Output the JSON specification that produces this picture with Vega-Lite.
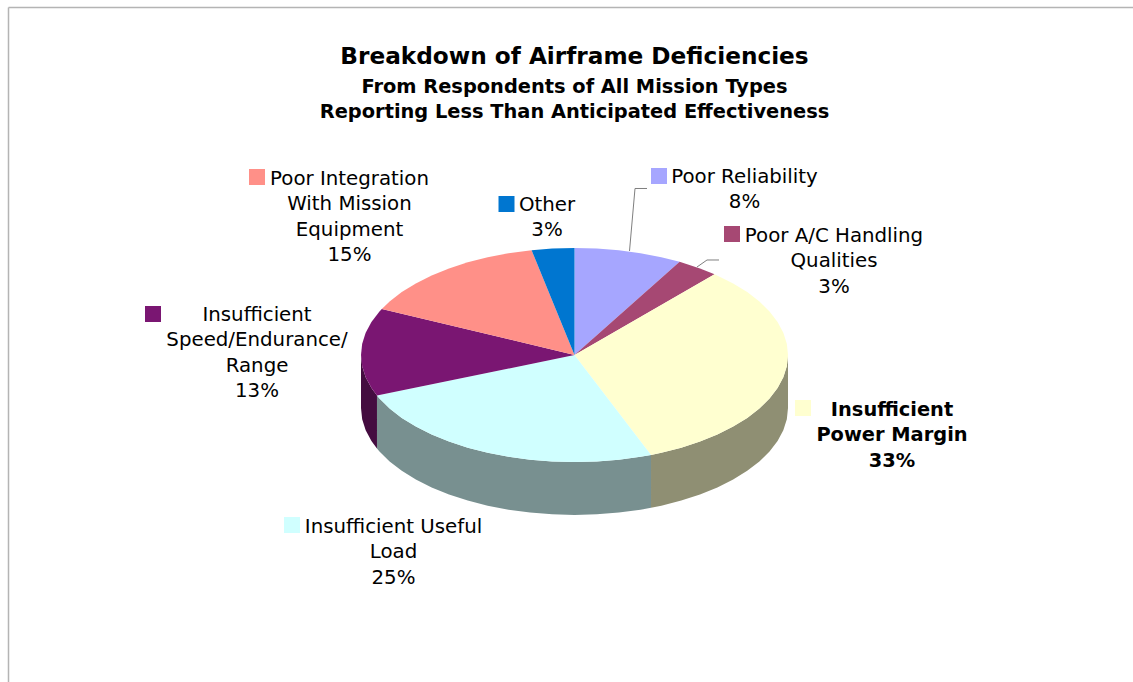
{
"$schema":"https://vega.github.io/schema/vega-lite/v6.json",
"width":1125,"height":675,
"autosize":"none",
"padding":{"left":8,"top":7,"right":0,"bottom":0},
"background":"white",
"title":{"text":"Breakdown of Airframe Deficiencies","subtitle":["From Respondents of All Mission Types","Reporting Less Than Anticipated Effectiveness"],
"font":"DejaVu Sans","fontSize":23.2,"fontWeight":"bold","color":"#000000",
"subtitleFont":"DejaVu Sans","subtitleFontSize":19.4,"subtitleFontWeight":"bold","subtitleColor":"#000000","subtitleLineHeight":25,"subtitlePadding":8,
"anchor":"middle","frame":"group","orient":"top","offset":-115,"dx":4},
"datasets":{
"faces":[
{"slice":"Poor Reliability","i":0,"x":0,"y":0},{"slice":"Poor Reliability","i":1,"x":0,"y":1},{"slice":"Poor Reliability","i":2,"x":0.1045,"y":0.9945},{"slice":"Poor Reliability","i":3,"x":0.2079,"y":0.9781},{"slice":"Poor Reliability","i":4,"x":0.309,"y":0.9511},{"slice":"Poor Reliability","i":5,"x":0.4067,"y":0.9135},{"slice":"Poor Reliability","i":6,"x":0.4924,"y":0.8704},
{"slice":"Poor A/C Handling Qualities","i":0,"x":0,"y":0},{"slice":"Poor A/C Handling Qualities","i":1,"x":0.4924,"y":0.8704},{"slice":"Poor A/C Handling Qualities","i":2,"x":0.5878,"y":0.809},{"slice":"Poor A/C Handling Qualities","i":3,"x":0.6561,"y":0.7547},
{"slice":"Insufficient Power Margin","i":0,"x":0,"y":0},{"slice":"Insufficient Power Margin","i":1,"x":0.6561,"y":0.7547},{"slice":"Insufficient Power Margin","i":2,"x":0.7431,"y":0.6691},{"slice":"Insufficient Power Margin","i":3,"x":0.809,"y":0.5878},{"slice":"Insufficient Power Margin","i":4,"x":0.866,"y":0.5},{"slice":"Insufficient Power Margin","i":5,"x":0.9135,"y":0.4067},{"slice":"Insufficient Power Margin","i":6,"x":0.9511,"y":0.309},{"slice":"Insufficient Power Margin","i":7,"x":0.9781,"y":0.2079},{"slice":"Insufficient Power Margin","i":8,"x":0.9945,"y":0.1045},{"slice":"Insufficient Power Margin","i":9,"x":1,"y":0},{"slice":"Insufficient Power Margin","i":10,"x":0.9945,"y":-0.1045},{"slice":"Insufficient Power Margin","i":11,"x":0.9781,"y":-0.2079},{"slice":"Insufficient Power Margin","i":12,"x":0.9511,"y":-0.309},{"slice":"Insufficient Power Margin","i":13,"x":0.9135,"y":-0.4067},{"slice":"Insufficient Power Margin","i":14,"x":0.866,"y":-0.5},{"slice":"Insufficient Power Margin","i":15,"x":0.809,"y":-0.5878},{"slice":"Insufficient Power Margin","i":16,"x":0.7431,"y":-0.6691},{"slice":"Insufficient Power Margin","i":17,"x":0.6691,"y":-0.7431},{"slice":"Insufficient Power Margin","i":18,"x":0.5878,"y":-0.809},{"slice":"Insufficient Power Margin","i":19,"x":0.5,"y":-0.866},{"slice":"Insufficient Power Margin","i":20,"x":0.4067,"y":-0.9135},{"slice":"Insufficient Power Margin","i":21,"x":0.3584,"y":-0.9336},
{"slice":"Insufficient Useful Load","i":0,"x":0,"y":0},{"slice":"Insufficient Useful Load","i":1,"x":0.3584,"y":-0.9336},{"slice":"Insufficient Useful Load","i":2,"x":0.309,"y":-0.9511},{"slice":"Insufficient Useful Load","i":3,"x":0.2079,"y":-0.9781},{"slice":"Insufficient Useful Load","i":4,"x":0.1045,"y":-0.9945},{"slice":"Insufficient Useful Load","i":5,"x":0,"y":-1},{"slice":"Insufficient Useful Load","i":6,"x":-0.1045,"y":-0.9945},{"slice":"Insufficient Useful Load","i":7,"x":-0.2079,"y":-0.9781},{"slice":"Insufficient Useful Load","i":8,"x":-0.309,"y":-0.9511},{"slice":"Insufficient Useful Load","i":9,"x":-0.4067,"y":-0.9135},{"slice":"Insufficient Useful Load","i":10,"x":-0.5,"y":-0.866},{"slice":"Insufficient Useful Load","i":11,"x":-0.5878,"y":-0.809},{"slice":"Insufficient Useful Load","i":12,"x":-0.6691,"y":-0.7431},{"slice":"Insufficient Useful Load","i":13,"x":-0.7431,"y":-0.6691},{"slice":"Insufficient Useful Load","i":14,"x":-0.809,"y":-0.5878},{"slice":"Insufficient Useful Load","i":15,"x":-0.866,"y":-0.5},{"slice":"Insufficient Useful Load","i":16,"x":-0.9135,"y":-0.4067},{"slice":"Insufficient Useful Load","i":17,"x":-0.9252,"y":-0.3795},
{"slice":"Insufficient Speed/Endurance/Range","i":0,"x":0,"y":0},{"slice":"Insufficient Speed/Endurance/Range","i":1,"x":-0.9252,"y":-0.3795},{"slice":"Insufficient Speed/Endurance/Range","i":2,"x":-0.9511,"y":-0.309},{"slice":"Insufficient Speed/Endurance/Range","i":3,"x":-0.9781,"y":-0.2079},{"slice":"Insufficient Speed/Endurance/Range","i":4,"x":-0.9945,"y":-0.1045},{"slice":"Insufficient Speed/Endurance/Range","i":5,"x":-1,"y":0},{"slice":"Insufficient Speed/Endurance/Range","i":6,"x":-0.9945,"y":0.1045},{"slice":"Insufficient Speed/Endurance/Range","i":7,"x":-0.9781,"y":0.2079},{"slice":"Insufficient Speed/Endurance/Range","i":8,"x":-0.9511,"y":0.309},{"slice":"Insufficient Speed/Endurance/Range","i":9,"x":-0.9135,"y":0.4067},{"slice":"Insufficient Speed/Endurance/Range","i":10,"x":-0.9026,"y":0.4305},
{"slice":"Poor Integration With Mission Equipment","i":0,"x":0,"y":0},{"slice":"Poor Integration With Mission Equipment","i":1,"x":-0.9026,"y":0.4305},{"slice":"Poor Integration With Mission Equipment","i":2,"x":-0.866,"y":0.5},{"slice":"Poor Integration With Mission Equipment","i":3,"x":-0.809,"y":0.5878},{"slice":"Poor Integration With Mission Equipment","i":4,"x":-0.7431,"y":0.6691},{"slice":"Poor Integration With Mission Equipment","i":5,"x":-0.6691,"y":0.7431},{"slice":"Poor Integration With Mission Equipment","i":6,"x":-0.5878,"y":0.809},{"slice":"Poor Integration With Mission Equipment","i":7,"x":-0.5,"y":0.866},{"slice":"Poor Integration With Mission Equipment","i":8,"x":-0.4067,"y":0.9135},{"slice":"Poor Integration With Mission Equipment","i":9,"x":-0.309,"y":0.9511},{"slice":"Poor Integration With Mission Equipment","i":10,"x":-0.2011,"y":0.9796},
{"slice":"Other","i":0,"x":0,"y":0},{"slice":"Other","i":1,"x":-0.2011,"y":0.9796},{"slice":"Other","i":2,"x":-0.1045,"y":0.9945},{"slice":"Other","i":3,"x":0,"y":1}
],
"walls":[
{"slice":"Power Margin side","x":1,"y":0,"b":-0.495},{"slice":"Power Margin side","x":0.9945,"y":-0.1045,"b":-0.5995},{"slice":"Power Margin side","x":0.9781,"y":-0.2079,"b":-0.7029},{"slice":"Power Margin side","x":0.9511,"y":-0.309,"b":-0.804},{"slice":"Power Margin side","x":0.9135,"y":-0.4067,"b":-0.9017},{"slice":"Power Margin side","x":0.866,"y":-0.5,"b":-0.995},{"slice":"Power Margin side","x":0.809,"y":-0.5878,"b":-1.0828},{"slice":"Power Margin side","x":0.7431,"y":-0.6691,"b":-1.1641},{"slice":"Power Margin side","x":0.6691,"y":-0.7431,"b":-1.2381},{"slice":"Power Margin side","x":0.5878,"y":-0.809,"b":-1.304},{"slice":"Power Margin side","x":0.5,"y":-0.866,"b":-1.361},{"slice":"Power Margin side","x":0.4067,"y":-0.9135,"b":-1.4085},{"slice":"Power Margin side","x":0.3584,"y":-0.9336,"b":-1.4286},
{"slice":"Useful Load side","x":0.3584,"y":-0.9336,"b":-1.4286},{"slice":"Useful Load side","x":0.309,"y":-0.9511,"b":-1.4461},{"slice":"Useful Load side","x":0.2079,"y":-0.9781,"b":-1.4731},{"slice":"Useful Load side","x":0.1045,"y":-0.9945,"b":-1.4895},{"slice":"Useful Load side","x":0,"y":-1,"b":-1.495},{"slice":"Useful Load side","x":-0.1045,"y":-0.9945,"b":-1.4895},{"slice":"Useful Load side","x":-0.2079,"y":-0.9781,"b":-1.4731},{"slice":"Useful Load side","x":-0.309,"y":-0.9511,"b":-1.4461},{"slice":"Useful Load side","x":-0.4067,"y":-0.9135,"b":-1.4085},{"slice":"Useful Load side","x":-0.5,"y":-0.866,"b":-1.361},{"slice":"Useful Load side","x":-0.5878,"y":-0.809,"b":-1.304},{"slice":"Useful Load side","x":-0.6691,"y":-0.7431,"b":-1.2381},{"slice":"Useful Load side","x":-0.7431,"y":-0.6691,"b":-1.1641},{"slice":"Useful Load side","x":-0.809,"y":-0.5878,"b":-1.0828},{"slice":"Useful Load side","x":-0.866,"y":-0.5,"b":-0.995},{"slice":"Useful Load side","x":-0.9135,"y":-0.4067,"b":-0.9017},{"slice":"Useful Load side","x":-0.9252,"y":-0.3795,"b":-0.8745},
{"slice":"Speed side","x":-0.9252,"y":-0.3795,"b":-0.8745},{"slice":"Speed side","x":-0.9511,"y":-0.309,"b":-0.804},{"slice":"Speed side","x":-0.9781,"y":-0.2079,"b":-0.7029},{"slice":"Speed side","x":-0.9945,"y":-0.1045,"b":-0.5995},{"slice":"Speed side","x":-1,"y":0,"b":-0.495}
],
"leaders":[
{"slice":"Poor Reliability","i":0,"x":0.2576,"y":0.972},{"slice":"Poor Reliability","i":1,"x":0.2834,"y":1.5561},{"slice":"Poor Reliability","i":2,"x":0.3396,"y":1.5561},
{"slice":"Poor A/C Handling Qualities","i":0,"x":0.5738,"y":0.8224},{"slice":"Poor A/C Handling Qualities","i":1,"x":0.6206,"y":0.8879},{"slice":"Poor A/C Handling Qualities","i":2,"x":0.6768,"y":0.8879}
],
"swatches":[
{"slice":"Poor Reliability","x":0.3958,"y":1.6729},
{"slice":"Poor A/C Handling Qualities","x":0.7377,"y":1.1308},
{"slice":"Insufficient Power Margin","x":1.0703,"y":-0.4953},
{"slice":"Insufficient Useful Load","x":-1.3232,"y":-1.5888},
{"slice":"Insufficient Speed/Endurance/Range","x":-1.9742,"y":0.3832},
{"slice":"Poor Integration With Mission Equipment","x":-1.4871,"y":1.6636},
{"slice":"Other","x":-0.3185,"y":1.4112}
],
"labels":[
{"slice":"Poor Reliability","share":8,"text":"Poor Reliability\n8%","x":0.7963,"y":1.6075},
{"slice":"Poor A/C Handling Qualities","share":3,"text":"Poor A/C Handling\nQualities\n3%","x":1.2155,"y":1.0561},
{"slice":"Insufficient Power Margin","share":33,"text":"Insufficient\nPower Margin\n33%","x":1.4871,"y":-0.5701},
{"slice":"Insufficient Useful Load","share":25,"text":"Insufficient Useful\nLoad\n25%","x":-0.8478,"y":-1.6636},
{"slice":"Insufficient Speed/Endurance/Range","share":13,"text":"Insufficient\nSpeed/Endurance/\nRange\n13%","x":-1.4871,"y":0.3178},
{"slice":"Poor Integration With Mission Equipment","share":15,"text":"Poor Integration\nWith Mission\nEquipment\n15%","x":-1.0539,"y":1.5888},
{"slice":"Other","share":3,"text":"Other\n3%","x":-0.1288,"y":1.3458}
]
},
"encoding":{
"x":{"field":"x","type":"quantitative","scale":{"domain":[-2.6534,2.6159],"nice":false,"zero":false},
"axis":{"orient":"top","title":null,"labels":false,"ticks":false,"grid":false,"domain":true,"domainColor":"#b4b4b4","domainWidth":1.5}},
"y":{"field":"y","type":"quantitative","scale":{"domain":[-3.0561,3.2523],"nice":false,"zero":false},
"axis":{"orient":"left","title":null,"labels":false,"ticks":false,"grid":false,"domain":true,"domainColor":"#b4b4b4","domainWidth":1.5}}
},
"layer":[
{"data":{"name":"walls"},
"mark":{"type":"area","strokeWidth":0.6},
"encoding":{
"y2":{"field":"b"},
"color":{"field":"slice","type":"nominal","legend":null,"scale":{"domain":["Power Margin side","Useful Load side","Speed side","Poor Reliability","Poor A/C Handling Qualities","Insufficient Power Margin","Insufficient Useful Load","Insufficient Speed/Endurance/Range","Poor Integration With Mission Equipment","Other"],"range":["#8f8f73","#789090","#440c40","#a6a6ff","#a64873","#ffffd0","#d0ffff","#7a1672","#ff9088","#0076d0"]}}
}},
{"data":{"name":"faces"},
"mark":{"type":"line","filled":true,"interpolate":"linear-closed","strokeWidth":0.5},
"encoding":{
"order":{"field":"i","type":"quantitative"},
"color":{"field":"slice","type":"nominal","legend":null,"scale":{"domain":["Power Margin side","Useful Load side","Speed side","Poor Reliability","Poor A/C Handling Qualities","Insufficient Power Margin","Insufficient Useful Load","Insufficient Speed/Endurance/Range","Poor Integration With Mission Equipment","Other"],"range":["#8f8f73","#789090","#440c40","#a6a6ff","#a64873","#ffffd0","#d0ffff","#7a1672","#ff9088","#0076d0"]}}
}},
{"data":{"name":"leaders"},
"mark":{"type":"line","color":"#7f7f7f","strokeWidth":1},
"encoding":{
"order":{"field":"i","type":"quantitative"},
"detail":{"field":"slice"}
}},
{"data":{"name":"swatches"},
"mark":{"type":"square","size":256,"opacity":1},
"encoding":{
"color":{"field":"slice","type":"nominal","legend":null,"scale":{"domain":["Power Margin side","Useful Load side","Speed side","Poor Reliability","Poor A/C Handling Qualities","Insufficient Power Margin","Insufficient Useful Load","Insufficient Speed/Endurance/Range","Poor Integration With Mission Equipment","Other"],"range":["#8f8f73","#789090","#440c40","#a6a6ff","#a64873","#ffffd0","#d0ffff","#7a1672","#ff9088","#0076d0"]}}
}},
{"data":{"name":"labels"},
"transform":[{"filter":"datum.share != 33"}],
"mark":{"type":"text","font":"DejaVu Sans","fontSize":19.8,"color":"#000000","align":"center","baseline":"alphabetic","lineBreak":"\n","lineHeight":25.3},
"encoding":{"text":{"field":"text"}}},
{"data":{"name":"labels"},
"transform":[{"filter":"datum.share == 33"}],
"mark":{"type":"text","font":"DejaVu Sans","fontSize":19.4,"fontWeight":"bold","color":"#000000","align":"center","baseline":"alphabetic","lineBreak":"\n","lineHeight":25.3},
"encoding":{"text":{"field":"text"}}}
],
"config":{"view":{"stroke":null}}
}
